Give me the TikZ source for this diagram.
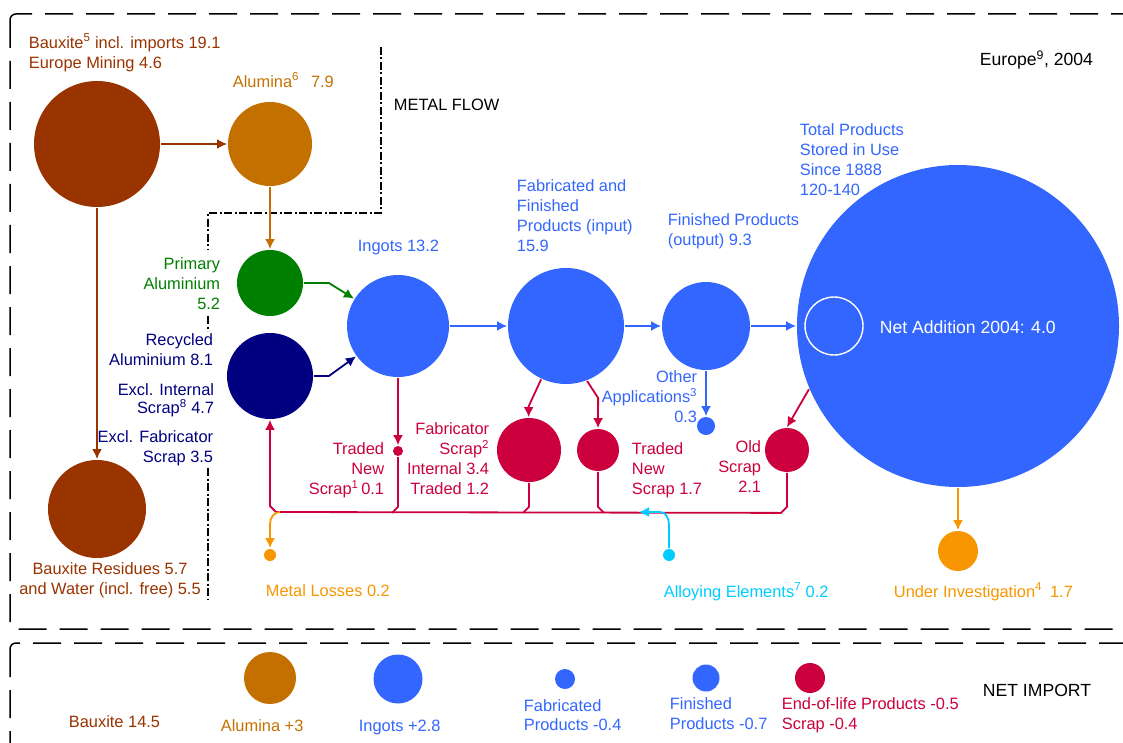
\documentclass[tikz,border=0pt]{standalone}
\usepackage{fontspec}
\setmainfont{Liberation Sans}
\usetikzlibrary{arrows.meta}
\usepackage{xcolor}
\definecolor{bauxbrown}{RGB}{153,51,0}
\definecolor{aluorange}{RGB}{196,112,0}
\definecolor{primgreen}{RGB}{0,128,0}
\definecolor{recnavy}{RGB}{0,0,128}
\definecolor{prodblue}{RGB}{51,102,255}
\definecolor{scrapred}{RGB}{204,0,60}
\definecolor{lossorange}{RGB}{247,150,0}
\definecolor{alloycyan}{RGB}{0,204,255}
\newcommand{\lblfont}{\fontsize{16.4}{20}\selectfont}
\newcommand{\bigfont}{\fontsize{17.6}{20}\selectfont}

\begin{document}
\begin{tikzpicture}[x=1pt, y=-1pt, line width=1.8pt,
    blob/.style={circle, inner sep=0pt, draw=none},
    lbl/.style={font=\lblfont, inner sep=0pt, execute at begin node=\strut},
    flow/.style={-{Latex[length=10pt,width=10pt]}},
    boxline/.style={black, line width=1.5pt, dash pattern=on 28pt off 13pt, rounded corners=6pt},
    divider/.style={black, line width=1.3pt, dash pattern=on 8pt off 2.5pt on 2pt off 2.5pt}]
    \useasboundingbox (0,0) rectangle (1123,743);
    \clip (0,0) rectangle (1123,743);

    \draw[boxline] (10,14) rectangle (1135,629);
    \draw[boxline] (10,643) rectangle (1135,760);
    \draw[divider] (381,47) -- (381,213) -- (208,213) -- (208,250);
    \draw[divider] (208,316) -- (208,331);
    \draw[divider] (208,468) -- (208,600);

    \node[blob, fill=bauxbrown, minimum size=126pt] (bx) at (97,144) {};
    \node[blob, fill=aluorange, minimum size=84pt] (al) at (270,144) {};
    \node[blob, fill=primgreen, minimum size=66pt] (pa) at (270,283) {};
    \node[blob, fill=recnavy, minimum size=86pt] (ra) at (270,376) {};
    \node[blob, fill=bauxbrown, minimum size=98pt] (res) at (97,509) {};
    \node[blob, fill=prodblue, minimum size=102pt] (ing) at (398,326) {};
    \node[blob, fill=prodblue, minimum size=116pt] (fab) at (566,326) {};
    \node[blob, fill=prodblue, minimum size=88pt] (fin) at (706,326) {};
    \node[blob, fill=prodblue, minimum size=18pt] (oth) at (706,426) {};
    \node[blob, fill=prodblue, minimum size=322pt] (st) at (958,326) {};
    \node[blob, draw=white, line width=1.4pt, minimum size=58pt] (na) at (834,326) {};
    \node[blob, fill=scrapred, minimum size=10pt] (tns) at (398,451) {};
    \node[blob, fill=scrapred, minimum size=64pt] (fs) at (529,450) {};
    \node[blob, fill=scrapred, minimum size=42pt] (tn) at (598,450) {};
    \node[blob, fill=scrapred, minimum size=44pt] (os) at (787,450) {};
    \node[blob, fill=lossorange, minimum size=40pt] (ui) at (958,551) {};
    \node[blob, fill=lossorange, minimum size=12pt] (ml) at (270,555) {};
    \node[blob, fill=alloycyan, minimum size=12pt] (ae) at (669,555) {};

    \node[blob, fill=aluorange, minimum size=52pt] (ial) at (270,678) {};
    \node[blob, fill=prodblue, minimum size=49pt] (iing) at (398,679) {};
    \node[blob, fill=prodblue, minimum size=20pt] (ifab) at (565,679) {};
    \node[blob, fill=prodblue, minimum size=27pt] (ifin) at (706,678) {};
    \node[blob, fill=scrapred, minimum size=30pt] (ieol) at (810,678) {};

    \coordinate (busL) at (270,512);
    \coordinate (lossout) at (280,512);
    \coordinate (alloyin) at (639,512);

    \draw[flow, bauxbrown] (bx) -- (al);
    \draw[flow, bauxbrown] (bx) -- (res);
    \draw[flow, aluorange] (al) -- (pa);
    \draw[flow, primgreen] (pa.east) -- ++(25,0) -- (ing);
    \draw[flow, recnavy] (ra.east) -- ++(15,0) -- (ing);
    \draw[flow, prodblue] (ing) -- (fab);
    \draw[flow, prodblue] (fab) -- (fin);
    \draw[flow, prodblue] (fin) -- (st);
    \draw[flow, prodblue] (fin) -- (oth);
    \draw[flow, scrapred] (ing) -- (tns);
    \draw[flow, scrapred] (fab.245) -- ++(-12.5,27) -- (fs);
    \draw[flow, scrapred] (fab.291) -- ++(11,17) -- (tn);
    \draw[flow, scrapred] (st.203) -- (os.north);
    \draw[flow, lossorange] (st) -- (ui);

    \draw[flow, scrapred] (os.south) -- ++(0,34) -- ++(-6,6) -- ([xshift=6pt]busL) -- ([yshift=6pt]busL) -- (ra);
    \draw[scrapred] (tns.south) -- ++(0,50) -- ++(-6,6);
    \draw[scrapred] (fs.south) -- ++(0,24) -- ++(-6,6);
    \draw[scrapred] (tn.south) -- ++(0,35) -- ++(6,6);
    \draw[flow, lossorange] (lossout) to[out=180, in=90] ++(-10,12) -- (ml);
    \draw[flow, alloycyan] (ae) -- ++(0,-30) to[out=90, in=0] ++(-9,-13) -- (alloyin);

    \node[lbl, bauxbrown, anchor=north west, align=left] (bxl) at (28,33) {Bauxite\textsuperscript{5} incl. imports 19.1\\Europe Mining 4.6};
    \node[lbl, aluorange, anchor=north west] (all) at (232,72) {Alumina\textsuperscript{6}\hspace{12pt}7.9};
    \node[lbl, anchor=north west] (mfl) at (393,96) {METAL FLOW};
    \node[lbl, font=\bigfont, anchor=north west] (eul) at (979,50) {Europe\textsuperscript{9}, 2004};
    \node[lbl, prodblue, anchor=north west] (ingl) at (357,237) {Ingots 13.2};
    \node[lbl, prodblue, anchor=north west, align=left] (fabl) at (516,179) {Fabricated and\\Finished\\Products (input)\\15.9};
    \node[lbl, prodblue, anchor=north west, align=left] (finl) at (667,213) {Finished Products\\(output) 9.3};
    \node[lbl, prodblue, anchor=north west, align=left] (stl) at (799,123) {Total Products\\Stored in Use\\Since 1888\\120-140};
    \node[lbl, font=\bigfont, white, anchor=north west] (nal) at (879,319) {Net Addition 2004: 4.0};
    \node[lbl, primgreen, anchor=north east, align=right] (pal) at (221,257) {Primary\\Aluminium\\5.2};
    \node[lbl, recnavy, anchor=north east, align=right] (ral) at (214,333) {Recycled\\Aluminium 8.1};
    \node[lbl, recnavy, anchor=north east, align=right] (exi) at (215,383) {Excl. Internal\\[-2pt]Scrap\textsuperscript{8} 4.7};
    \node[lbl, recnavy, anchor=north east, align=right] (exf) at (214,430) {Excl. Fabricator\\Scrap 3.5};
    \node[lbl, bauxbrown, anchor=north, align=center] (resl) at (110,562) {Bauxite Residues 5.7\\and Water (incl. free) 5.5};
    \node[lbl, scrapred, anchor=north east, align=right] (tnsl) at (385,442) {Traded\\New\\Scrap\textsuperscript{1}\,0.1};
    \node[lbl, scrapred, anchor=north east, align=right] (fsl) at (490,422) {Fabricator\\Scrap\textsuperscript{2}\\Internal 3.4\\Traded 1.2};
    \node[lbl, scrapred, anchor=north west, align=left] (tnl) at (631,442) {Traded\\New\\Scrap 1.7};
    \node[lbl, scrapred, anchor=north east, align=right] (osl) at (762,440) {Old\\Scrap\\2.1\hspace{2pt}};
    \node[lbl, prodblue, anchor=north east, align=right] (othl) at (698,370) {Other\\Applications\textsuperscript{3}\\0.3};
    \node[lbl, lossorange, anchor=north west] (mll) at (265,582) {Metal Losses 0.2};
    \node[lbl, alloycyan, anchor=north west] (ael) at (663,582) {Alloying Elements\textsuperscript{7} 0.2};
    \node[lbl, lossorange, anchor=north west] (uil) at (893,582) {Under Investigation\textsuperscript{4}\hspace{8pt}1.7};

    \node[lbl, bauxbrown, anchor=north west] (ibxl) at (68,713) {Bauxite 14.5};
    \node[lbl, aluorange, anchor=north west] (iall) at (220,717) {Alumina +3};
    \node[lbl, prodblue, anchor=north west] (iingl) at (358,717) {Ingots +2.8};
    \node[lbl, prodblue, anchor=north west, align=left] (ifabl) at (523,699) {Fabricated\\[-1pt]Products -0.4};
    \node[lbl, prodblue, anchor=north west, align=left] (ifinl) at (669,697) {Finished\\Products -0.7};
    \node[lbl, scrapred, anchor=north west, align=left] (ieoll) at (781,697) {End-of-life Products -0.5\\Scrap -0.4};
    \node[lbl, font=\bigfont, anchor=north west] (nil) at (982,682) {NET IMPORT};
\end{tikzpicture}
\end{document}
